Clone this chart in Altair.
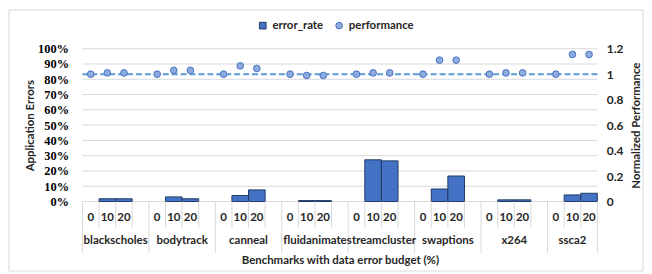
import altair as alt
import pandas as pd

benchmarks = ["blackscholes", "bodytrack", "canneal", "fluidanimate",
              "streamcluster", "swaptions", "x264", "ssca2"]
budgets = ["0", "10", "20"]
# error rate (%) for budgets 0, 10, 20
error_rate = [
    [0, 1.8, 1.8],
    [0, 3.0, 1.8],
    [0, 3.9, 7.6],
    [0, 0.6, 0.6],
    [0, 27.3, 26.6],
    [0, 8.2, 16.7],
    [0, 1.1, 1.1],
    [0, 4.3, 5.4],
]
performance = [
    [1.0, 1.01, 1.01],
    [1.0, 1.03, 1.03],
    [1.0, 1.065, 1.045],
    [1.0, 0.99, 0.99],
    [1.0, 1.01, 1.01],
    [1.0, 1.11, 1.11],
    [1.0, 1.01, 1.01],
    [1.0, 1.155, 1.155],
]
perf_baseline = [1.0]
left_ticks = [0, 0.1, 0.2, 0.3, 0.4, 0.5, 0.6, 0.7, 0.8, 0.9, 1.0]
right_ticks = [0, 0.2, 0.4, 0.6, 0.8, 1.0, 1.2]

SLOTS_PER_GROUP = 4  # 3 budgets + 1 blank spacer
n_slots = SLOTS_PER_GROUP * len(benchmarks) - 1

W, H = 519, 154
LINE_PX = 1.0

rows = []
for i, b in enumerate(benchmarks):
    for j, bud in enumerate(budgets):
        s = SLOTS_PER_GROUP * i + j
        rows.append(dict(bench=b, budget=bud, start=s, end=s + 1, center=s + 0.5,
                         err=error_rate[i][j] / 100.0, zero=0.0, perf=performance[i][j],
                         s1="error_rate", s2="performance"))
df = pd.DataFrame(rows)

groups = []
for i, b in enumerate(benchmarks):
    gs = SLOTS_PER_GROUP * i
    ge = min(gs + SLOTS_PER_GROUP, n_slots)
    groups.append(dict(bench=b, gcenter=(gs + ge) / 2))
gdf = pd.DataFrame(groups)

short_b, long_b = [], []
for i in range(len(benchmarks)):
    gs = SLOTS_PER_GROUP * i
    long_b.append(gs)
    for k in range(1, SLOTS_PER_GROUP):
        v = gs + k
        if v < n_slots:
            short_b.append(v)
long_b.append(n_slots)
xw = LINE_PX * n_slots / W / 2
sdf = pd.DataFrame({"b": [v - xw for v in short_b], "b2": [v + xw for v in short_b]})
ldf = pd.DataFrame({"b": [v - xw for v in long_b], "b2": [v + xw for v in long_b]})
base_df = pd.DataFrame({"base": perf_baseline})
yw = LINE_PX / H / 2
grid_df = pd.DataFrame({"t": [t - yw for t in left_ticks], "t2": [t + yw for t in left_ticks]})

FONT = "Lato"
SERIF = "Liberation Serif"
TXT = "#262626"
GRID = "#D9D9D9"

xscale = alt.Scale(domain=[0, n_slots], nice=False, zero=False)
xaxis = alt.Axis(labels=False, ticks=False, grid=False, domain=False,
                 title="Benchmarks with data error budget (%)", titleFont=FONT,
                 titleFontSize=11.5, titleFontWeight="bold", titleColor=TXT,
                 titleY=59, titleBaseline="middle")


def X(field):
    return alt.X(f"{field}:Q", scale=xscale, axis=xaxis)


left_axis = alt.Axis(values=left_ticks, format=".0%", orient="left", domain=False,
                     ticks=False, grid=False,
                     labelFont=SERIF, labelFontSize=12.5, labelFontWeight="bold",
                     labelColor="#000000", labelPadding=14, title="Application Errors",
                     titleFont=FONT, titleFontSize=11.5, titleFontWeight="bold",
                     titleColor=TXT, titleX=-52, titleY=H / 2, titleAngle=270,
                     titleBaseline="middle", titleAlign="center")
right_axis = alt.Axis(values=right_ticks, format=".1~f", orient="right", domain=False,
                      ticks=False, grid=False, labelFont=FONT, labelFontSize=12,
                      labelFontWeight="bold", labelColor=TXT, labelPadding=9,
                      title="Normalized Performance", titleFont=FONT, titleFontSize=11.5,
                      titleFontWeight="bold", titleColor=TXT, titleX=39, titleY=H / 2,
                      titleAngle=270, titleBaseline="middle", titleAlign="center")
lscale = alt.Scale(domain=[0, 1], nice=False)
rscale = alt.Scale(domain=[0, 1.2], nice=False)

grid_rects = alt.Chart(grid_df).mark_rect(color=GRID, opacity=1).encode(
    x=alt.value(0), x2=alt.value(W),
    y=alt.Y("t:Q", scale=lscale, axis=left_axis), y2="t2:Q")

bars = alt.Chart(df).transform_filter("datum.err > 0").mark_bar(
    stroke="#1F3864", strokeWidth=1).encode(
    x=X("start"), x2="end",
    y=alt.Y("err:Q", scale=lscale, axis=left_axis), y2="zero:Q",
    color=alt.Color("s1:N", scale=alt.Scale(domain=["error_rate"], range=["#4472C4"]),
                    legend=alt.Legend(orient="none", legendX=176, legendY=-29, title=None,
                                      symbolType="square", symbolSize=45,
                                      symbolStrokeColor="#1F3864", symbolStrokeWidth=1,
                                      labelFont=FONT, labelFontSize=11.5,
                                      labelFontWeight="bold", labelColor=TXT,
                                      labelOffset=4, padding=0)),
)

left_layer = alt.layer(grid_rects, bars)

rule = alt.Chart(base_df).mark_rule(color="#5B9BD5", strokeWidth=2,
                                     strokeDash=[6, 3]).encode(
    y=alt.Y("base:Q", scale=rscale, axis=right_axis))

points = alt.Chart(df).mark_point(filled=True, size=45, stroke="#4472C4",
                                  strokeWidth=1, opacity=1).encode(
    x=X("center"),
    y=alt.Y("perf:Q", scale=rscale, axis=right_axis),
    fill=alt.Fill("s2:N", scale=alt.Scale(domain=["performance"], range=["#8FAADC"]),
                  legend=alt.Legend(orient="none", legendX=253, legendY=-29, title=None,
                                    symbolType="circle", symbolSize=45,
                                    symbolStrokeColor="#4472C4", symbolStrokeWidth=1,
                                    labelFont=FONT, labelFontSize=11.5,
                                    labelFontWeight="bold", labelColor=TXT,
                                    labelOffset=4, padding=0)),
)

perf_layer = alt.layer(rule, points)

short_lines = alt.Chart(sdf).mark_rect(color=GRID, opacity=1).encode(
    x=X("b"), x2="b2", y=alt.value(H), y2=alt.value(H + 27))
long_lines = alt.Chart(ldf).mark_rect(color=GRID, opacity=1).encode(
    x=X("b"), x2="b2", y=alt.value(H), y2=alt.value(H + 52))

slot_text = alt.Chart(df).mark_text(font=FONT, fontSize=11.5, fontWeight="bold",
                                    color=TXT, baseline="middle").encode(
    x=X("center"), y=alt.value(H + 17), text="budget:N")
group_text = alt.Chart(gdf).mark_text(font=FONT, fontSize=11.5, fontWeight="bold",
                                      color=TXT, baseline="middle").encode(
    x=X("gcenter"), y=alt.value(H + 40), text="bench:N")

frame = alt.Chart(base_df).mark_rect(filled=False, fill="transparent",
                                     stroke="#D9D9D9", strokeWidth=1).encode(
    x=alt.value(-74), x2=alt.value(565), y=alt.value(-39), y2=alt.value(224))

chart = alt.layer(
    left_layer, perf_layer, short_lines, long_lines, slot_text, group_text, frame
).resolve_scale(y="independent", color="independent", fill="independent").properties(
    width=W, height=H, padding=0
).configure_view(stroke=None)

chart.save("out.html", embed_options={"renderer": "svg", "actions": False})
